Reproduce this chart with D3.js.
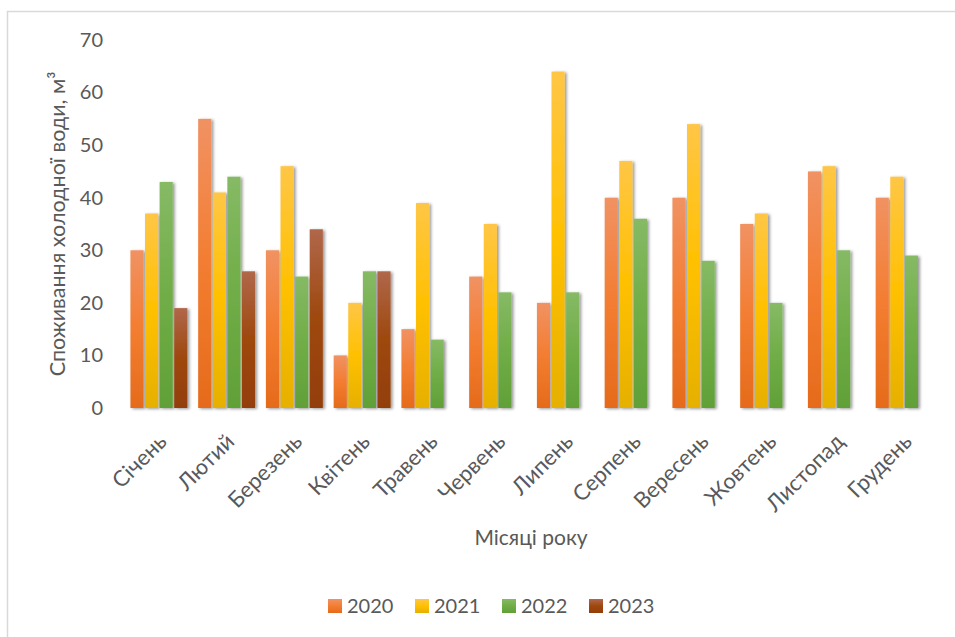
<!DOCTYPE html>
<html>
<head>
<meta charset="utf-8">
<script src="https://cdn.jsdelivr.net/npm/d3@7/dist/d3.min.js"></script>
<style>
  html, body { margin: 0; padding: 0; background: #fff; }
  svg { display: block; font-family: Lato, "Open Sans", sans-serif; }
</style>
</head>
<body>
<svg id="chart" width="955" height="637"></svg>
<script>
// Monthly cold water consumption, m³
const months = ["Січень", "Лютий", "Березень", "Квітень", "Травень", "Червень",
                "Липень", "Серпень", "Вересень", "Жовтень", "Листопад", "Грудень"];
const years = ["2020", "2021", "2022", "2023"];
const values2020 = [30, 55, 30, 10, 15, 25, 20, 40, 40, 35, 45, 40];
const values2021 = [37, 41, 46, 20, 39, 35, 64, 47, 54, 37, 46, 44];
const values2022 = [43, 44, 25, 26, 13, 22, 22, 36, 28, 20, 30, 29];
const values2023 = [19, 26, 34, 26, null, null, null, null, null, null, null, null];
const yTicks = [0, 10, 20, 30, 40, 50, 60, 70];
const yTitle = "Споживання холодної води, м³";
const xTitle = "Місяці року";

const seriesValues = [values2020, values2021, values2022, values2023];
// gradient stops per series: top, middle, bottom
const palette = [
  ["#F19263", "#F37D31", "#E56B1B"],
  ["#FFC646", "#FFC000", "#E6B000"],
  ["#86BA65", "#70AD47", "#61A038"],
  ["#B0674A", "#9E480E", "#933E09"]
];

const svg = d3.select("#chart");
const W = 955, H = 637;
const plot = { left: 125, right: 938, top: 40, bottom: 408 };

const defs = svg.append("defs");
palette.forEach((c, i) => {
  const g = defs.append("linearGradient")
    .attr("id", "grad" + i).attr("x1", 0).attr("y1", 0).attr("x2", 0).attr("y2", 1);
  g.append("stop").attr("offset", "0%").attr("stop-color", c[0]);
  g.append("stop").attr("offset", "50%").attr("stop-color", c[1]);
  g.append("stop").attr("offset", "100%").attr("stop-color", c[2]);
});
const shadow = defs.append("filter").attr("id", "shadow")
  .attr("x", "-50%").attr("y", "-10%").attr("width", "200%").attr("height", "120%");
shadow.append("feDropShadow").attr("dx", 2).attr("dy", 1)
  .attr("stdDeviation", 1.8).attr("flood-color", "#000").attr("flood-opacity", 0.4);
const lineShadow = defs.append("filter").attr("id", "lineShadow")
  .attr("x", "-5%").attr("y", "-300%").attr("width", "110%").attr("height", "700%");
lineShadow.append("feDropShadow").attr("dx", 0).attr("dy", 1.2)
  .attr("stdDeviation", 1).attr("flood-color", "#000").attr("flood-opacity", 0.3);

// frame
svg.append("path")
  .attr("d", `M7.5,${H} V11.5 H${W}`)
  .attr("fill", "none").attr("stroke", "#d9d9d9").attr("stroke-width", 1.5);

const x = d3.scaleBand().domain(months).range([plot.left, plot.right])
  .paddingInner(0.16).paddingOuter(0.08);
const xSub = d3.scaleBand().domain(years).range([0, x.bandwidth()]).paddingInner(0.1);
const y = d3.scaleLinear().domain([0, 70]).range([plot.bottom, plot.top]);

// gridlines
svg.append("g").selectAll("line").data(yTicks).join("line")
  .attr("x1", plot.left).attr("x2", plot.right)
  .attr("y1", d => y(d)).attr("y2", d => y(d))
  .attr("stroke", "#cdcdcd").attr("stroke-width", 2)
  .attr("filter", "url(#lineShadow)");

// y tick labels
const yAxis = d3.axisLeft(y).tickValues(yTicks).tickSize(0).tickPadding(0);
const gy = svg.append("g").attr("transform", `translate(${plot.left - 22},0)`).call(yAxis);
gy.select(".domain").remove();
gy.selectAll("text").attr("font-size", 20).attr("fill", "#595959")
  .attr("font-family", "Lato, sans-serif");

// bars
const rows = [];
months.forEach((m, mi) => {
  years.forEach((yr, si) => {
    const v = seriesValues[si][mi];
    if (v != null) rows.push({ m, yr, si, v });
  });
});
svg.append("g").selectAll("rect").data(rows).join("rect")
  .attr("x", d => x(d.m) + xSub(d.yr))
  .attr("width", xSub.bandwidth())
  .attr("y", d => y(d.v))
  .attr("height", d => y(0) - y(d.v))
  .attr("fill", d => `url(#grad${d.si})`)
  .attr("filter", "url(#shadow)");

// x tick labels
const xAxis = d3.axisBottom(x).tickSize(0).tickPadding(0);
const gx = svg.append("g").attr("transform", `translate(0,${plot.bottom})`).call(xAxis);
gx.select(".domain").remove();
gx.selectAll("text")
  .attr("font-size", 22).attr("fill", "#595959").attr("font-family", "Lato, sans-serif")
  .attr("text-anchor", "end")
  .attr("dy", 0).attr("y", 0)
  .attr("transform", "translate(9,35) rotate(-45)");

// axis titles
svg.append("text")
  .attr("transform", `translate(65,${(plot.top + plot.bottom) / 2}) rotate(-90)`)
  .attr("text-anchor", "middle").attr("font-size", 21.5).attr("fill", "#595959")
  .text(yTitle);
svg.append("text")
  .attr("x", 531).attr("y", 545)
  .attr("text-anchor", "middle").attr("font-size", 21).attr("fill", "#595959")
  .text(xTitle);

// legend
const legend = svg.append("g").attr("transform", "translate(328,599)");
const item = legend.selectAll("g").data(years).join("g")
  .attr("transform", (d, i) => `translate(${i * 87},0)`);
item.append("rect").attr("width", 14).attr("height", 14)
  .attr("fill", (d, i) => `url(#grad${i})`);
item.append("text").attr("x", 19).attr("y", 14)
  .attr("font-size", 20).attr("fill", "#595959").text(d => d);
</script>
</body>
</html>
